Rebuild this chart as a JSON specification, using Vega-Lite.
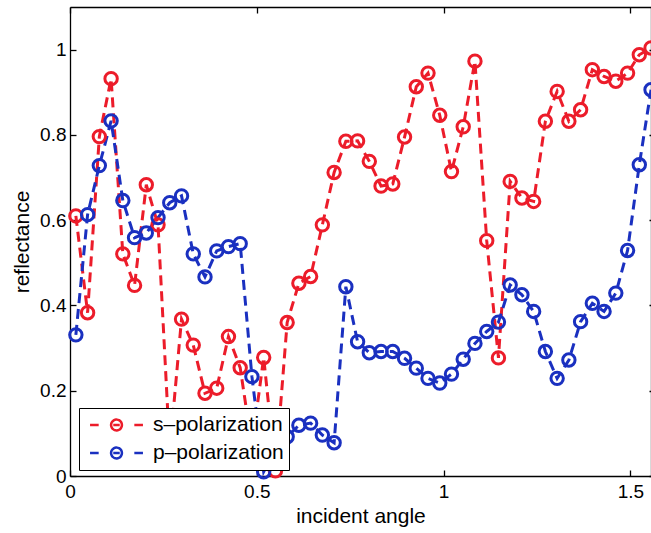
{
  "$schema": "https://vega.github.io/schema/vega-lite/v6.json",
  "width": 581,
  "height": 469,
  "autosize": {"type": "none"},
  "padding": {"left": 70, "top": 7, "right": 0, "bottom": 57},
  "background": "white",
  "config": {
    "view": {"stroke": null},
    "font": "Liberation Sans",
    "axis": {
      "grid": false,
      "domainColor": "black",
      "domainWidth": 1.3,
      "tickColor": "black",
      "tickWidth": 1.3,
      "labelColor": "black",
      "titleColor": "black",
      "labelFont": "Liberation Sans",
      "titleFont": "Liberation Sans",
      "labelFontSize": 19,
      "titleFontSize": 21,
      "titleFontWeight": "normal",
      "labelFlush": false,
      "labelOverlap": false
    }
  },
  "data": {
    "values": [
      {"angle": 0.0157, "reflectance": 0.610, "polarization": "s–polarization"},
      {"angle": 0.0471, "reflectance": 0.383, "polarization": "s–polarization"},
      {"angle": 0.0785, "reflectance": 0.796, "polarization": "s–polarization"},
      {"angle": 0.1100, "reflectance": 0.932, "polarization": "s–polarization"},
      {"angle": 0.1414, "reflectance": 0.521, "polarization": "s–polarization"},
      {"angle": 0.1728, "reflectance": 0.447, "polarization": "s–polarization"},
      {"angle": 0.2042, "reflectance": 0.683, "polarization": "s–polarization"},
      {"angle": 0.2356, "reflectance": 0.589, "polarization": "s–polarization"},
      {"angle": 0.2670, "reflectance": 0.060, "polarization": "s–polarization"},
      {"angle": 0.2985, "reflectance": 0.368, "polarization": "s–polarization"},
      {"angle": 0.3299, "reflectance": 0.307, "polarization": "s–polarization"},
      {"angle": 0.3613, "reflectance": 0.194, "polarization": "s–polarization"},
      {"angle": 0.3927, "reflectance": 0.206, "polarization": "s–polarization"},
      {"angle": 0.4241, "reflectance": 0.327, "polarization": "s–polarization"},
      {"angle": 0.4555, "reflectance": 0.254, "polarization": "s–polarization"},
      {"angle": 0.4869, "reflectance": 0.070, "polarization": "s–polarization"},
      {"angle": 0.5184, "reflectance": 0.278, "polarization": "s–polarization"},
      {"angle": 0.5498, "reflectance": 0.012, "polarization": "s–polarization"},
      {"angle": 0.5812, "reflectance": 0.360, "polarization": "s–polarization"},
      {"angle": 0.6126, "reflectance": 0.452, "polarization": "s–polarization"},
      {"angle": 0.6440, "reflectance": 0.468, "polarization": "s–polarization"},
      {"angle": 0.6754, "reflectance": 0.589, "polarization": "s–polarization"},
      {"angle": 0.7069, "reflectance": 0.712, "polarization": "s–polarization"},
      {"angle": 0.7383, "reflectance": 0.785, "polarization": "s–polarization"},
      {"angle": 0.7697, "reflectance": 0.786, "polarization": "s–polarization"},
      {"angle": 0.8011, "reflectance": 0.738, "polarization": "s–polarization"},
      {"angle": 0.8325, "reflectance": 0.680, "polarization": "s–polarization"},
      {"angle": 0.8639, "reflectance": 0.685, "polarization": "s–polarization"},
      {"angle": 0.8954, "reflectance": 0.795, "polarization": "s–polarization"},
      {"angle": 0.9268, "reflectance": 0.913, "polarization": "s–polarization"},
      {"angle": 0.9582, "reflectance": 0.945, "polarization": "s–polarization"},
      {"angle": 0.9896, "reflectance": 0.846, "polarization": "s–polarization"},
      {"angle": 1.0210, "reflectance": 0.714, "polarization": "s–polarization"},
      {"angle": 1.0524, "reflectance": 0.819, "polarization": "s–polarization"},
      {"angle": 1.0838, "reflectance": 0.973, "polarization": "s–polarization"},
      {"angle": 1.1153, "reflectance": 0.552, "polarization": "s–polarization"},
      {"angle": 1.1467, "reflectance": 0.277, "polarization": "s–polarization"},
      {"angle": 1.1781, "reflectance": 0.691, "polarization": "s–polarization"},
      {"angle": 1.2095, "reflectance": 0.652, "polarization": "s–polarization"},
      {"angle": 1.2409, "reflectance": 0.644, "polarization": "s–polarization"},
      {"angle": 1.2723, "reflectance": 0.832, "polarization": "s–polarization"},
      {"angle": 1.3038, "reflectance": 0.902, "polarization": "s–polarization"},
      {"angle": 1.3352, "reflectance": 0.832, "polarization": "s–polarization"},
      {"angle": 1.3666, "reflectance": 0.859, "polarization": "s–polarization"},
      {"angle": 1.3980, "reflectance": 0.953, "polarization": "s–polarization"},
      {"angle": 1.4294, "reflectance": 0.937, "polarization": "s–polarization"},
      {"angle": 1.4608, "reflectance": 0.926, "polarization": "s–polarization"},
      {"angle": 1.4923, "reflectance": 0.945, "polarization": "s–polarization"},
      {"angle": 1.5237, "reflectance": 0.988, "polarization": "s–polarization"},
      {"angle": 1.5551, "reflectance": 1.004, "polarization": "s–polarization"},
      {"angle": 0.0157, "reflectance": 0.331, "polarization": "p–polarization"},
      {"angle": 0.0471, "reflectance": 0.613, "polarization": "p–polarization"},
      {"angle": 0.0785, "reflectance": 0.728, "polarization": "p–polarization"},
      {"angle": 0.1100, "reflectance": 0.833, "polarization": "p–polarization"},
      {"angle": 0.1414, "reflectance": 0.646, "polarization": "p–polarization"},
      {"angle": 0.1728, "reflectance": 0.559, "polarization": "p–polarization"},
      {"angle": 0.2042, "reflectance": 0.570, "polarization": "p–polarization"},
      {"angle": 0.2356, "reflectance": 0.606, "polarization": "p–polarization"},
      {"angle": 0.2670, "reflectance": 0.641, "polarization": "p–polarization"},
      {"angle": 0.2985, "reflectance": 0.657, "polarization": "p–polarization"},
      {"angle": 0.3299, "reflectance": 0.521, "polarization": "p–polarization"},
      {"angle": 0.3613, "reflectance": 0.467, "polarization": "p–polarization"},
      {"angle": 0.3927, "reflectance": 0.528, "polarization": "p–polarization"},
      {"angle": 0.4241, "reflectance": 0.538, "polarization": "p–polarization"},
      {"angle": 0.4555, "reflectance": 0.545, "polarization": "p–polarization"},
      {"angle": 0.4869, "reflectance": 0.233, "polarization": "p–polarization"},
      {"angle": 0.5184, "reflectance": 0.010, "polarization": "p–polarization"},
      {"angle": 0.5498, "reflectance": 0.060, "polarization": "p–polarization"},
      {"angle": 0.5812, "reflectance": 0.092, "polarization": "p–polarization"},
      {"angle": 0.6126, "reflectance": 0.119, "polarization": "p–polarization"},
      {"angle": 0.6440, "reflectance": 0.124, "polarization": "p–polarization"},
      {"angle": 0.6754, "reflectance": 0.096, "polarization": "p–polarization"},
      {"angle": 0.7069, "reflectance": 0.078, "polarization": "p–polarization"},
      {"angle": 0.7383, "reflectance": 0.444, "polarization": "p–polarization"},
      {"angle": 0.7697, "reflectance": 0.315, "polarization": "p–polarization"},
      {"angle": 0.8011, "reflectance": 0.289, "polarization": "p–polarization"},
      {"angle": 0.8325, "reflectance": 0.292, "polarization": "p–polarization"},
      {"angle": 0.8639, "reflectance": 0.292, "polarization": "p–polarization"},
      {"angle": 0.8954, "reflectance": 0.276, "polarization": "p–polarization"},
      {"angle": 0.9268, "reflectance": 0.253, "polarization": "p–polarization"},
      {"angle": 0.9582, "reflectance": 0.229, "polarization": "p–polarization"},
      {"angle": 0.9896, "reflectance": 0.218, "polarization": "p–polarization"},
      {"angle": 1.0210, "reflectance": 0.239, "polarization": "p–polarization"},
      {"angle": 1.0524, "reflectance": 0.274, "polarization": "p–polarization"},
      {"angle": 1.0838, "reflectance": 0.311, "polarization": "p–polarization"},
      {"angle": 1.1153, "reflectance": 0.339, "polarization": "p–polarization"},
      {"angle": 1.1467, "reflectance": 0.361, "polarization": "p–polarization"},
      {"angle": 1.1781, "reflectance": 0.448, "polarization": "p–polarization"},
      {"angle": 1.2095, "reflectance": 0.425, "polarization": "p–polarization"},
      {"angle": 1.2409, "reflectance": 0.386, "polarization": "p–polarization"},
      {"angle": 1.2723, "reflectance": 0.292, "polarization": "p–polarization"},
      {"angle": 1.3038, "reflectance": 0.229, "polarization": "p–polarization"},
      {"angle": 1.3352, "reflectance": 0.272, "polarization": "p–polarization"},
      {"angle": 1.3666, "reflectance": 0.362, "polarization": "p–polarization"},
      {"angle": 1.3980, "reflectance": 0.405, "polarization": "p–polarization"},
      {"angle": 1.4294, "reflectance": 0.386, "polarization": "p–polarization"},
      {"angle": 1.4608, "reflectance": 0.429, "polarization": "p–polarization"},
      {"angle": 1.4923, "reflectance": 0.529, "polarization": "p–polarization"},
      {"angle": 1.5237, "reflectance": 0.730, "polarization": "p–polarization"},
      {"angle": 1.5551, "reflectance": 0.906, "polarization": "p–polarization"}
    ]
  },
  "layer": [
    {
      "mark": {"type": "line", "strokeDash": [10, 6], "strokeWidth": 3},
      "encoding": {
        "x": {
          "field": "angle", "type": "quantitative",
          "scale": {"domain": [0, 1.555], "nice": false, "zero": false},
          "axis": {"orient": "bottom", "values": [0, 0.5, 1, 1.5], "format": "~g", "tickSize": -6, "labelPadding": 12, "title": "incident angle", "titlePadding": 4}
        },
        "y": {
          "field": "reflectance", "type": "quantitative",
          "scale": {"domain": [0, 1.1], "nice": false},
          "axis": {"orient": "left", "values": [0, 0.2, 0.4, 0.6, 0.8, 1], "format": "~g", "tickSize": -6, "labelPadding": 10, "title": "reflectance", "titlePadding": 7}
        },
        "color": {
          "field": "polarization", "type": "nominal",
          "scale": {"domain": ["s–polarization", "p–polarization"], "range": ["#ec1c2a", "#1a30c0"]},
          "legend": {
            "title": null,
            "orient": "none",
            "legendX": 9,
            "legendY": 401,
            "direction": "vertical",
            "symbolType": "M-0.98,0H-0.66M0.66,0H0.98M-0.12,0H0.12M-0.2,0C-0.2,-0.1105,-0.1105,-0.2,0,-0.2C0.1105,-0.2,0.2,-0.1105,0.2,0C0.2,0.1105,0.1105,0.2,0,0.2C-0.1105,0.2,-0.2,0.1105,-0.2,0Z",
            "symbolSize": 2916,
            "symbolStrokeWidth": 2.5,
            "symbolFillColor": "transparent",
            "symbolDash": [1, 0],
            "clipHeight": 24,
            "rowPadding": 4,
            "padding": 5,
            "symbolOffset": 4,
            "labelOffset": 8,
            "labelFont": "Liberation Sans",
            "labelFontSize": 21,
            "labelColor": "black",
            "labelLimit": 400,
            "strokeColor": "black",
            "fillColor": "white",
            "cornerRadius": 0
          }
        }
      }
    },
    {
      "mark": {"type": "point", "shape": "circle", "filled": false, "size": 154, "strokeWidth": 3, "opacity": 1},
      "encoding": {
        "x": {
          "field": "angle", "type": "quantitative",
          "axis": {"orient": "top", "values": [0, 0.5, 1, 1.5], "labels": false, "title": null, "tickSize": -6}
        },
        "y": {
          "field": "reflectance", "type": "quantitative",
          "axis": {"orient": "right", "values": [0, 0.2, 0.4, 0.6, 0.8, 1], "labels": false, "title": null, "tickSize": -2}
        },
        "color": {"field": "polarization", "type": "nominal"}
      }
    }
  ],
  "resolve": {"axis": {"x": "independent", "y": "independent"}}
}
